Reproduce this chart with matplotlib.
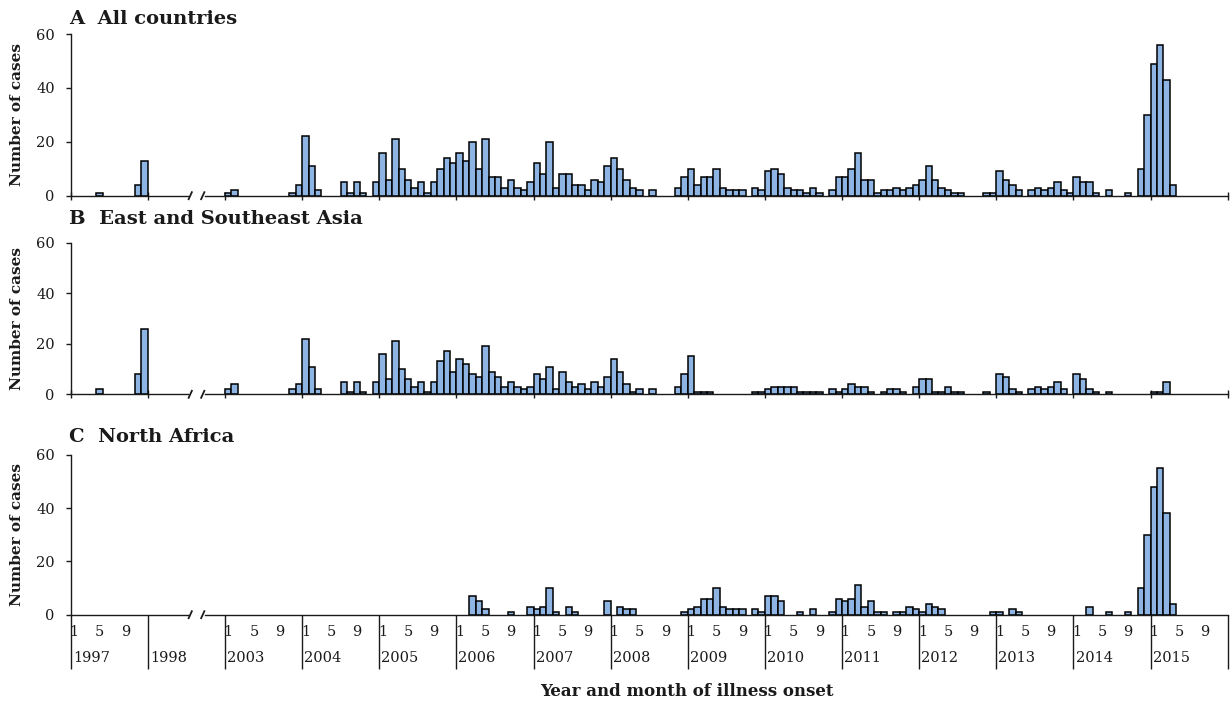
import matplotlib
matplotlib.use("Agg")
import matplotlib.pyplot as plt
import numpy as np

# ---------------- data ----------------
years = [1997, 1998, 2003, 2004, 2005, 2006, 2007, 2008, 2009, 2010,
         2011, 2012, 2013, 2014, 2015]
labelled_years = [y for y in years if y != 1998]
month_labels = [1, 5, 9]

panel_titles = ["A  All countries", "B  East and Southeast Asia", "C  North Africa"]

# monthly counts, one row of 12 months per year in `years`
all_countries = [
    [0, 0, 0, 0, 1, 0, 0, 0, 0, 0, 4, 13],      # 1997
    [0, 0, 0, 0, 0, 0, 0, 0, 0, 0, 0, 0],       # 1998
    [1, 2, 0, 0, 0, 0, 0, 0, 0, 0, 1, 4],       # 2003
    [22, 11, 2, 0, 0, 0, 5, 1, 5, 1, 0, 5],     # 2004
    [16, 6, 21, 10, 6, 3, 5, 1, 5, 10, 14, 12], # 2005
    [16, 13, 20, 10, 21, 7, 7, 3, 6, 3, 2, 5],  # 2006
    [12, 8, 20, 3, 8, 8, 4, 4, 2, 6, 5, 11],    # 2007
    [14, 10, 6, 3, 2, 0, 2, 0, 0, 0, 3, 7],     # 2008
    [10, 4, 7, 7, 10, 3, 2, 2, 2, 0, 3, 2],     # 2009
    [9, 10, 8, 3, 2, 2, 1, 3, 1, 0, 2, 7],      # 2010
    [7, 10, 16, 6, 6, 1, 2, 2, 3, 2, 3, 4],     # 2011
    [6, 11, 6, 3, 2, 1, 1, 0, 0, 0, 1, 1],      # 2012
    [9, 6, 4, 2, 0, 2, 3, 2, 3, 5, 2, 1],       # 2013
    [7, 5, 5, 1, 0, 2, 0, 0, 1, 0, 10, 30],     # 2014
    [49, 56, 43, 4, 0, 0, 0, 0, 0, 0, 0, 0],    # 2015
]

east_southeast_asia = [
    [0, 0, 0, 0, 2, 0, 0, 0, 0, 0, 8, 26],      # 1997
    [0, 0, 0, 0, 0, 0, 0, 0, 0, 0, 0, 0],       # 1998
    [2, 4, 0, 0, 0, 0, 0, 0, 0, 0, 2, 4],       # 2003
    [22, 11, 2, 0, 0, 0, 5, 1, 5, 1, 0, 5],     # 2004
    [16, 6, 21, 10, 6, 3, 5, 1, 5, 13, 17, 9],  # 2005
    [14, 12, 8, 7, 19, 9, 7, 3, 5, 3, 2, 3],    # 2006
    [8, 6, 11, 2, 9, 5, 3, 4, 2, 5, 3, 7],      # 2007
    [14, 9, 4, 1, 2, 0, 2, 0, 0, 0, 3, 8],      # 2008
    [15, 1, 1, 1, 0, 0, 0, 0, 0, 0, 1, 1],      # 2009
    [2, 3, 3, 3, 3, 1, 1, 1, 1, 0, 2, 1],       # 2010
    [2, 4, 3, 3, 1, 0, 1, 2, 2, 1, 0, 3],       # 2011
    [6, 6, 1, 1, 3, 1, 1, 0, 0, 0, 1, 0],       # 2012
    [8, 7, 2, 1, 0, 2, 3, 2, 3, 5, 2, 0],       # 2013
    [8, 6, 2, 1, 0, 1, 0, 0, 0, 0, 0, 0],       # 2014
    [1, 1, 5, 0, 0, 0, 0, 0, 0, 0, 0, 0],       # 2015
]

north_africa = [
    [0, 0, 0, 0, 0, 0, 0, 0, 0, 0, 0, 0],       # 1997
    [0, 0, 0, 0, 0, 0, 0, 0, 0, 0, 0, 0],       # 1998
    [0, 0, 0, 0, 0, 0, 0, 0, 0, 0, 0, 0],       # 2003
    [0, 0, 0, 0, 0, 0, 0, 0, 0, 0, 0, 0],       # 2004
    [0, 0, 0, 0, 0, 0, 0, 0, 0, 0, 0, 0],       # 2005
    [0, 0, 7, 5, 2, 0, 0, 0, 1, 0, 0, 3],       # 2006
    [2, 3, 10, 1, 0, 3, 1, 0, 0, 0, 0, 5],      # 2007
    [0, 3, 2, 2, 0, 0, 0, 0, 0, 0, 0, 1],       # 2008
    [2, 3, 6, 6, 10, 3, 2, 2, 2, 0, 2, 1],      # 2009
    [7, 7, 5, 0, 0, 1, 0, 2, 0, 0, 1, 6],       # 2010
    [5, 6, 11, 3, 5, 1, 1, 0, 1, 1, 3, 2],      # 2011
    [1, 4, 3, 2, 0, 0, 0, 0, 0, 0, 0, 1],       # 2012
    [1, 0, 2, 1, 0, 0, 0, 0, 0, 0, 0, 0],       # 2013
    [0, 0, 3, 0, 0, 1, 0, 0, 1, 0, 10, 30],     # 2014
    [48, 55, 38, 4, 0, 0, 0, 0, 0, 0, 0, 0],    # 2015
]

y_ticks = [0, 20, 40, 60]

# ---------------- style ----------------
plt.rcParams["font.family"] = ["DejaVu Serif"]
BAR_COLOR = "#8DB4E2"
AX_COLOR = "#1a1a1a"
W, H = 1231, 704

fig = plt.figure(figsize=(W / 100, H / 100), dpi=100)


def rect(x0, y0, x1, y1):
    return [x0 / W, 1 - y1 / H, (x1 - x0) / W, (y1 - y0) / H]


panel_px = [(34.0, 195.7), (242.7, 394.3), (454.7, 614.7)]
X0, X1 = 70.7, 1227.7
n_months = 12 * len(years)
px_per_unit_x = (X1 - X0) / n_months

panels = [all_countries, east_southeast_asia, north_africa]
axes = []
for i, (data, (ytop, ybot)) in enumerate(zip(panels, panel_px)):
    ax = fig.add_axes(rect(X0, ytop, X1, ybot))
    axes.append(ax)
    vals = np.array(data, dtype=float).ravel()
    x = np.arange(n_months) + 0.5
    mask = vals > 0
    ax.bar(x[mask], vals[mask], width=1.0, color=BAR_COLOR,
           edgecolor="black", linewidth=1.1, zorder=3)
    ax.set_xlim(0, n_months)
    ax.set_ylim(0, 60)
    ax.set_yticks(y_ticks)
    ax.tick_params(axis="y", direction="out", length=3.5, width=1.0,
                   pad=8, labelsize=10.5, colors=AX_COLOR)
    for s in ("top", "right", "bottom"):
        ax.spines[s].set_visible(False)
    ax.spines["left"].set_linewidth(1.0)
    ax.spines["left"].set_color(AX_COLOR)

    # baseline with axis break inside 1998 block
    unit_y = 60 / (ybot - ytop)
    bx0 = (188 - X0) / px_per_unit_x
    bx1 = (205 - X0) / px_per_unit_x
    ax.plot([0, bx0], [0, 0], color=AX_COLOR, lw=1.0, clip_on=False, zorder=4)
    ax.plot([bx1, n_months], [0, 0], color=AX_COLOR, lw=1.0, clip_on=False, zorder=4)
    for sx in (bx0 + 0.35, bx1 - 0.35):
        ax.plot([sx - 0.25, sx + 0.25], [-3.5 * unit_y, 3.5 * unit_y],
                color=AX_COLOR, lw=1.3, clip_on=False, zorder=4)

    ax.set_xticks(np.arange(0, n_months + 1, 12))
    if i < 2:
        ax.tick_params(axis="x", direction="inout", length=6, width=1.0,
                       labelbottom=False, colors=AX_COLOR)
    else:
        ax.tick_params(axis="x", direction="out", length=54 * 0.72, width=1.0,
                       labelbottom=False, colors=AX_COLOR)
        # month and year labels
        for k, yr in enumerate(years):
            start = 12 * k
            if yr in labelled_years:
                for m in month_labels:
                    ax.annotate(str(m), xy=(start + m - 0.5, 0),
                                xycoords=("data", "axes fraction"),
                                xytext=(0, -17.5 * 0.72), textcoords="offset points",
                                ha="center", va="center", fontsize=10.5,
                                color=AX_COLOR)
            ax.annotate(str(yr), xy=(start, 0),
                        xycoords=("data", "axes fraction"),
                        xytext=(1.5, -43.5 * 0.72), textcoords="offset points",
                        ha="left", va="center", fontsize=10.5, color=AX_COLOR)

    fig.text(17 / W, 1 - ((ytop + ybot) / 2) / H, "Number of cases",
             rotation=90, ha="center", va="center", fontsize=11,
             fontweight="bold", color=AX_COLOR)

title_y = [19, 219, 437]
for t, ty in zip(panel_titles, title_y):
    fig.text(69 / W, 1 - ty / H, t, ha="left", va="center", fontsize=14,
             fontweight="bold", color=AX_COLOR)

fig.text(687 / W, 1 - 692 / H, "Year and month of illness onset",
         ha="center", va="center", fontsize=12, fontweight="bold",
         color=AX_COLOR)

fig.savefig("out.png", dpi=100, facecolor="white")
